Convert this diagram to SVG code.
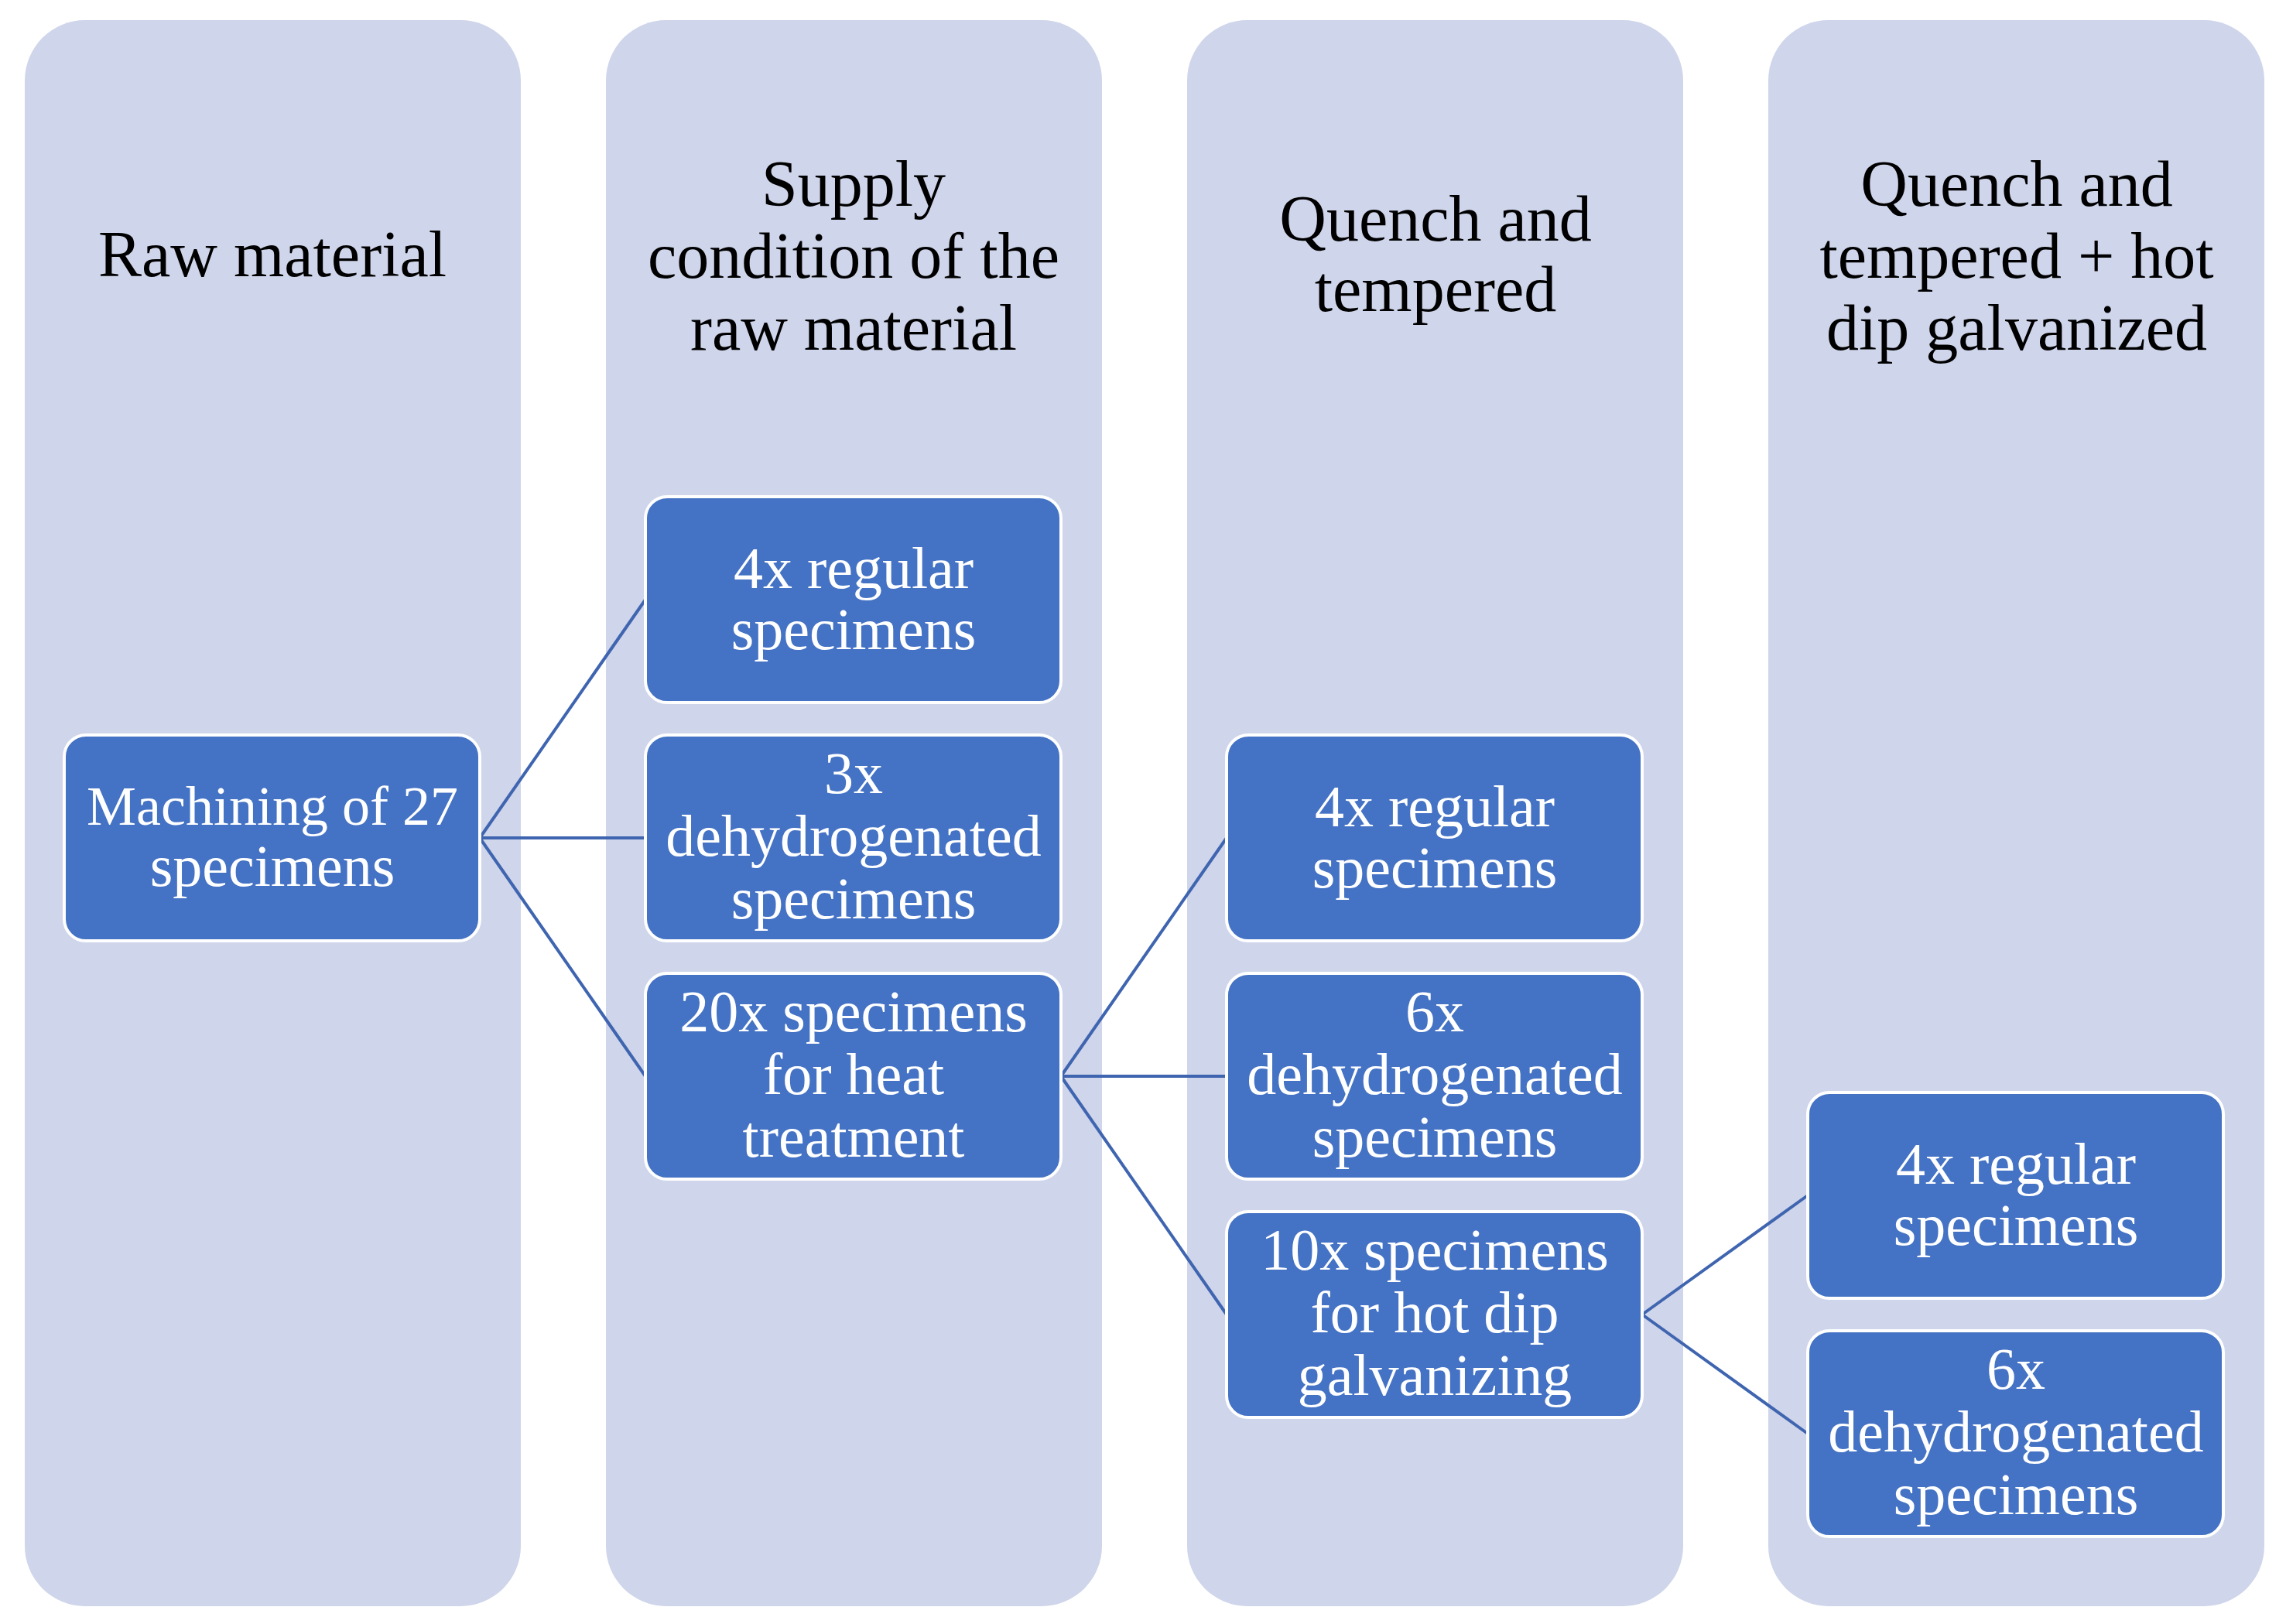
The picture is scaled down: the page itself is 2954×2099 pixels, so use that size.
<svg xmlns="http://www.w3.org/2000/svg" width="2954" height="2099" viewBox="0 0 2954 2099">
<style>
.col{fill:#CFD5EA;}
.hdr{font-family:"Liberation Serif","Times New Roman",serif;font-size:84px;fill:#000;text-anchor:middle;}
.node rect{fill:#4472C4;stroke:#FFFFFF;stroke-width:4;}
.node text{font-family:"Liberation Serif","Times New Roman",serif;font-size:76px;fill:#FFFFFF;text-anchor:middle;}
.conn line{stroke:#3F65B0;stroke-width:4;fill:none;}
</style>
<rect x="0" y="0" width="2954" height="2099" fill="#FFFFFF"/>
<g id="columns">
<rect class="col" x="32" y="26" width="641" height="2050" rx="78" ry="78"/>
<rect class="col" x="783" y="26" width="641" height="2050" rx="78" ry="78"/>
<rect class="col" x="1534" y="26" width="641" height="2050" rx="78" ry="78"/>
<rect class="col" x="2285" y="26" width="641" height="2050" rx="78" ry="78"/>
</g>
<g id="headers">
<text class="hdr" x="352" y="357">Raw material</text>
<text class="hdr" x="1103" y="266">Supply</text>
<text class="hdr" x="1103" y="359">condition  of the</text>
<text class="hdr" x="1103" y="452">raw material</text>
<text class="hdr" x="1855" y="311">Quench and</text>
<text class="hdr" x="1855" y="402">tempered</text>
<text class="hdr" x="2606" y="266">Quench and</text>
<text class="hdr" x="2606" y="359">tempered + hot</text>
<text class="hdr" x="2606" y="452">dip galvanized</text>
</g>
<g id="connectors" class="conn">
<line x1="620" y1="1083" x2="834" y2="775"/>
<line x1="620" y1="1083" x2="834" y2="1083"/>
<line x1="620" y1="1083" x2="834" y2="1391"/>
<line x1="1371" y1="1391" x2="1585" y2="1083"/>
<line x1="1371" y1="1391" x2="1585" y2="1391"/>
<line x1="1371" y1="1391" x2="1585" y2="1699"/>
<line x1="2122" y1="1699" x2="2336" y2="1545"/>
<line x1="2122" y1="1699" x2="2336" y2="1853"/>
</g>
<g id="n1" class="node">
<rect x="83" y="950" width="537" height="266" rx="28" ry="28"/>
<text x="352" y="1066" style="font-size:72px">Machining of 27</text>
<text x="352" y="1145">specimens</text>
</g>
<g id="n2a" class="node">
<rect x="834" y="642" width="537" height="266" rx="28" ry="28"/>
<text x="1103" y="760">4x regular</text>
<text x="1103" y="839">specimens</text>
</g>
<g id="n2b" class="node">
<rect x="834" y="950" width="537" height="266" rx="28" ry="28"/>
<text x="1103" y="1025">3x</text>
<text x="1103" y="1106">dehydrogenated</text>
<text x="1103" y="1187">specimens</text>
</g>
<g id="n2c" class="node">
<rect x="834" y="1258" width="537" height="266" rx="28" ry="28"/>
<text x="1103" y="1333">20x specimens</text>
<text x="1103" y="1414">for heat</text>
<text x="1103" y="1495">treatment</text>
</g>
<g id="n3a" class="node">
<rect x="1585" y="950" width="537" height="266" rx="28" ry="28"/>
<text x="1854" y="1068">4x regular</text>
<text x="1854" y="1147">specimens</text>
</g>
<g id="n3b" class="node">
<rect x="1585" y="1258" width="537" height="266" rx="28" ry="28"/>
<text x="1854" y="1333">6x</text>
<text x="1854" y="1414">dehydrogenated</text>
<text x="1854" y="1495">specimens</text>
</g>
<g id="n3c" class="node">
<rect x="1585" y="1566" width="537" height="266" rx="28" ry="28"/>
<text x="1854" y="1641">10x specimens</text>
<text x="1854" y="1722">for hot dip</text>
<text x="1854" y="1803">galvanizing</text>
</g>
<g id="n4a" class="node">
<rect x="2336" y="1412" width="537" height="266" rx="28" ry="28"/>
<text x="2605" y="1530">4x regular</text>
<text x="2605" y="1609">specimens</text>
</g>
<g id="n4b" class="node">
<rect x="2336" y="1720" width="537" height="266" rx="28" ry="28"/>
<text x="2605" y="1795">6x</text>
<text x="2605" y="1876">dehydrogenated</text>
<text x="2605" y="1957">specimens</text>
</g>
</svg>
